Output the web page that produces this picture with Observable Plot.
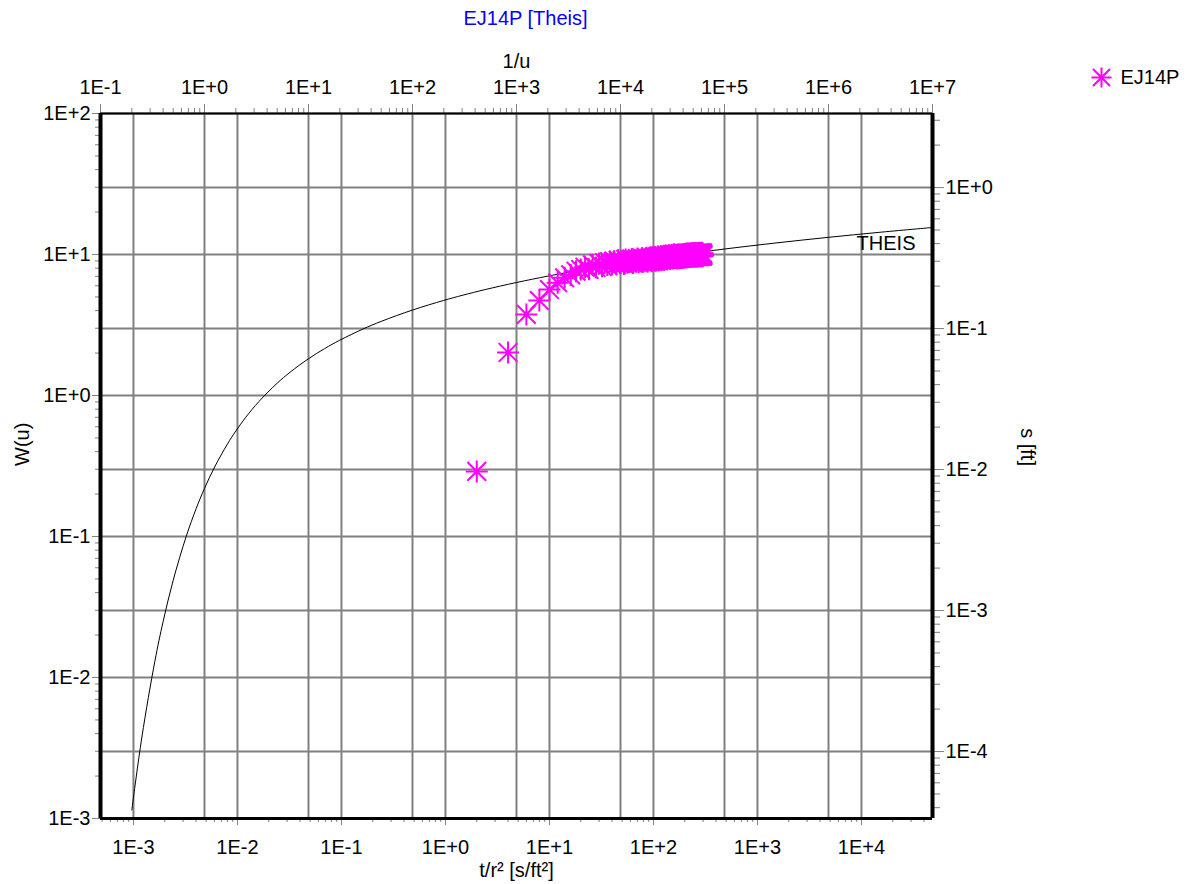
<!DOCTYPE html>
<html>
<head>
<meta charset="utf-8">
<script src="https://cdn.jsdelivr.net/npm/d3@7"></script>
<script src="https://cdn.jsdelivr.net/npm/@observablehq/plot@0.6"></script>
<style>
  html, body { margin: 0; padding: 0; background: white; }
</style>
</head>
<body>
<div id="chart"></div>
<script>
// ---- Data ----
const title = "EJ14P [Theis]";
const seriesName = "EJ14P";
const curveName = "THEIS";
const xLabelBottom = "t/r² [s/ft²]";
const xLabelTop = "1/u";
const yLabelLeft = "W(u)";
const yLabelRight = "s [ft]";

// Observed drawdown (EJ14P): t/r² [s/ft²] and s [ft]
const tOverR2 = [2,4,6,8,10,12,14,16,18,20,
  22,24,26,28,30,32,34,36,38,40,
  42,44,46,48,50,52,54,56,58,60,
  62,64,66,68,70,72,74,76,78,80,
  82,84,86,88,90,92,94,96,98,100,
  102,104,106,108,110,112,114,116,118,120,
  122,124,126,128,130,132,134,136,138,140,
  142,144,146,148,150,152,154,156,158,160,
  162,164,166,168,170,172,174,176,178,180,
  182,184,186,188,190,192,194,196,198,200,
  202,204,206,208,210,212,214,216,218,220,
  222,224,226,228,230,232,234,236,238,240,
  242,244,246,248,250,252,254,256,258,260,
  262,264,266,268,270,272,274,276,278,280,
  282,284,286,288,290,292,294,296,298,300];
const drawdown = [0.0097,0.0676,0.126,0.158,0.189,0.211,0.229,0.240,0.255,0.262,
  0.272,0.263,0.283,0.271,0.289,0.276,0.293,0.282,0.298,0.285,
  0.300,0.284,0.306,0.290,0.303,0.287,0.309,0.294,0.302,0.297,
  0.311,0.291,0.306,0.298,0.314,0.295,0.308,0.300,0.316,0.297,
  0.310,0.303,0.318,0.298,0.312,0.305,0.320,0.300,0.314,0.307,
  0.322,0.302,0.316,0.309,0.324,0.304,0.318,0.311,0.326,0.306,
  0.320,0.313,0.328,0.308,0.322,0.315,0.330,0.310,0.324,0.317,
  0.332,0.312,0.326,0.319,0.334,0.314,0.328,0.321,0.336,0.316,
  0.326,0.318,0.333,0.314,0.327,0.320,0.335,0.315,0.329,0.321,
  0.335,0.316,0.329,0.322,0.337,0.317,0.331,0.323,0.338,0.319,
  0.332,0.325,0.340,0.320,0.334,0.326,0.341,0.322,0.335,0.328,
  0.340,0.321,0.335,0.327,0.342,0.322,0.336,0.329,0.343,0.324,
  0.335,0.328,0.342,0.323,0.337,0.329,0.343,0.324,0.338,0.330,
  0.342,0.323,0.337,0.329,0.344,0.325,0.338,0.330,0.345,0.326,
  0.337,0.329,0.344,0.325,0.338,0.330,0.345,0.326,0.339,0.331];

// Theis type curve: 1/u and W(u)
const invU = [0.2,0.25,0.3333,0.4,0.5,0.6667,0.8333,1,1.25,1.667,2,2.5,3.333,5,6.667,10,14.29,20,33.33,50,100,200,300,500,1000,2000,3000,5000,1e4,3e4,1e5,3e5,1e6,3e6,1e7];
const Wu = [0.001148,0.003779,0.01305,0.02491,0.0489,0.1,0.1584,0.2194,0.3106,0.4544,0.5598,0.7024,0.9057,1.2227,1.4645,1.8229,2.1508,2.4679,2.9591,3.3547,4.0379,4.7261,5.130,5.6394,6.3315,7.0242,7.429,7.9402,8.6332,9.732,10.9357,12.035,13.2383,14.337,15.5409];

// Axis tick decades (exponents)
const bottomDecades = [-3,-2,-1,0,1,2,3,4];
const topDecades = [-1,0,1,2,3,4,5,6,7];
const leftDecades = [-3,-2,-1,0,1,2];
const rightDecades = [-4,-3,-2,-1,0];
const minorMult = [2,3,4,5,6,7,8,9];

// Match-point factors (type curve overlay)
const kx = 0.00482;   // t/r² per (1/u)
const ky = 29.85;     // W(u) per ft of drawdown

// ---- Build ----
const xDomain = [0.1 * kx, 1e7 * kx];
const yDomain = [1e-3, 1e2];
const inX = v => v >= xDomain[0] * 0.999 && v <= xDomain[1] * 1.001;
const inY = v => v >= yDomain[0] * 0.999 && v <= yDomain[1] * 1.001;

const pts = tOverR2.map((t, i) => ({t, s: drawdown[i]}));
const theis = invU.map((v, i) => ({invU: v, W: Wu[i]}));

const fmtE = e => "1E" + (e >= 0 ? "+" : "-") + Math.abs(e);
const expOf = (v, k) => Math.round(Math.log10(v / k));

const bottomMajor = bottomDecades.map(e => 10 ** e);
const bottomMinor = [-4, ...bottomDecades].flatMap(e => minorMult.map(m => m * 10 ** e)).filter(inX);
const topMajor = topDecades.map(e => 10 ** e * kx);
const topMinor = topDecades.flatMap(e => minorMult.map(m => m * 10 ** e * kx)).filter(inX);
const leftMajor = leftDecades.map(e => 10 ** e);
const leftMinor = leftDecades.flatMap(e => minorMult.map(m => m * 10 ** e)).filter(inY);
const rightMajor = rightDecades.map(e => 10 ** e * ky);
const rightMinor = [-5, ...rightDecades].flatMap(e => minorMult.map(m => m * 10 ** e * ky)).filter(inY);

// Asterisk with 8 spokes
const asterisk8 = {
  draw(ctx, size) {
    const r = Math.sqrt(size / Math.PI);
    const d = r * 0.85;
    ctx.moveTo(-r, 0); ctx.lineTo(r, 0);
    ctx.moveTo(0, -r); ctx.lineTo(0, r);
    ctx.moveTo(-d, -d); ctx.lineTo(d, d);
    ctx.moveTo(-d, d); ctx.lineTo(d, -d);
  }
};

const grey = "#808080";
const magenta = "#ff00ff";
const fs = 20;

const chart = Plot.plot({
  width: 1199,
  height: 884,
  marginLeft: 100,
  marginRight: 267,
  marginTop: 113,
  marginBottom: 66,
  x: {type: "log", domain: xDomain},
  y: {type: "log", domain: yDomain},
  style: {fontFamily: "'Liberation Sans', Arial, sans-serif", fontSize: fs + "px", background: "white", color: "black", overflow: "visible"},
  marks: [
    // grid
    Plot.ruleX([...bottomMajor, ...topMajor].filter(inX), {stroke: grey, strokeWidth: 2}),
    Plot.ruleY([...leftMajor, ...rightMajor].filter(inY), {stroke: grey, strokeWidth: 2}),
    // axes
    Plot.axisX(bottomMajor, {anchor: "bottom", tickSize: 7, tickPadding: 14, stroke: grey, fill: "black", label: null, tickFormat: v => fmtE(expOf(v, 1))}),
    Plot.axisX(bottomMinor, {anchor: "bottom", tickSize: 4, stroke: grey, label: null, tickFormat: () => ""}),
    Plot.axisX(topMajor, {anchor: "top", tickSize: 10, stroke: grey, label: null, tickFormat: () => ""}),
    Plot.axisX(topMinor, {anchor: "top", tickSize: 6, stroke: grey, label: null, tickFormat: () => ""}),
    Plot.text(topMajor, {x: d => d, frameAnchor: "top", dy: -26, lineAnchor: "middle", text: d => fmtE(expOf(d, kx)), fill: "black", fontSize: fs}),
    Plot.axisY(leftMajor, {anchor: "left", tickSize: 8, tickPadding: 2, stroke: grey, fill: "black", label: null, tickFormat: v => fmtE(expOf(v, 1))}),
    Plot.axisY(leftMinor, {anchor: "left", tickSize: 5, stroke: grey, label: null, tickFormat: () => ""}),
    Plot.axisY(rightMajor, {anchor: "right", tickSize: 11, tickPadding: 2, stroke: grey, fill: "black", label: null, tickFormat: v => fmtE(expOf(v, ky))}),
    Plot.axisY(rightMinor, {anchor: "right", tickSize: 7, stroke: grey, label: null, tickFormat: () => ""}),
    // frame
    Plot.ruleY([yDomain[1]], {stroke: "black", strokeWidth: 2}),
    Plot.ruleY([yDomain[0]], {stroke: "black", strokeWidth: 3}),
    Plot.ruleX([xDomain[0]], {stroke: "black", strokeWidth: 4}),
    Plot.ruleX([xDomain[1]], {stroke: "black", strokeWidth: 4}),
    // Theis type curve
    Plot.line(theis, {x: d => d.invU * kx, y: "W", stroke: "black", strokeWidth: 1, curve: "catmull-rom"}),
    Plot.text([curveName], {frameAnchor: "top-right", dx: -17, dy: 130, lineAnchor: "middle", textAnchor: "end", fill: "black", fontSize: fs, letterSpacing: -2}),
    // observations
    Plot.dot(pts, {x: "t", y: d => d.s * ky, symbol: asterisk8, r: 11, stroke: magenta, strokeWidth: 2, fill: "none"}),
    // labels
    Plot.text([title], {frameAnchor: "top", dx: 9, dy: -95, lineAnchor: "middle", fill: "#0000ff", fontSize: fs}),
    Plot.text([xLabelTop], {frameAnchor: "top", dy: -52, lineAnchor: "middle", fill: "black", fontSize: fs}),
    Plot.text([xLabelBottom], {frameAnchor: "bottom", dy: 52, lineAnchor: "middle", fill: "black", fontSize: fs}),
    Plot.text([yLabelLeft], {frameAnchor: "left", dx: -78, lineAnchor: "middle", rotate: -90, fill: "black", fontSize: fs}),
    Plot.text([yLabelRight], {frameAnchor: "right", dx: 95, lineAnchor: "middle", rotate: 90, fill: "black", fontSize: fs}),
    // legend
    Plot.dot([seriesName], {frameAnchor: "top-right", dx: 169, dy: -36, symbol: asterisk8, r: 10, stroke: magenta, strokeWidth: 2, fill: "none"}),
    Plot.text([seriesName], {frameAnchor: "top-right", dx: 188, dy: -36, lineAnchor: "middle", textAnchor: "start", fill: "black", fontSize: fs})
  ]
});
document.getElementById("chart").appendChild(chart);
</script>
</body>
</html>
